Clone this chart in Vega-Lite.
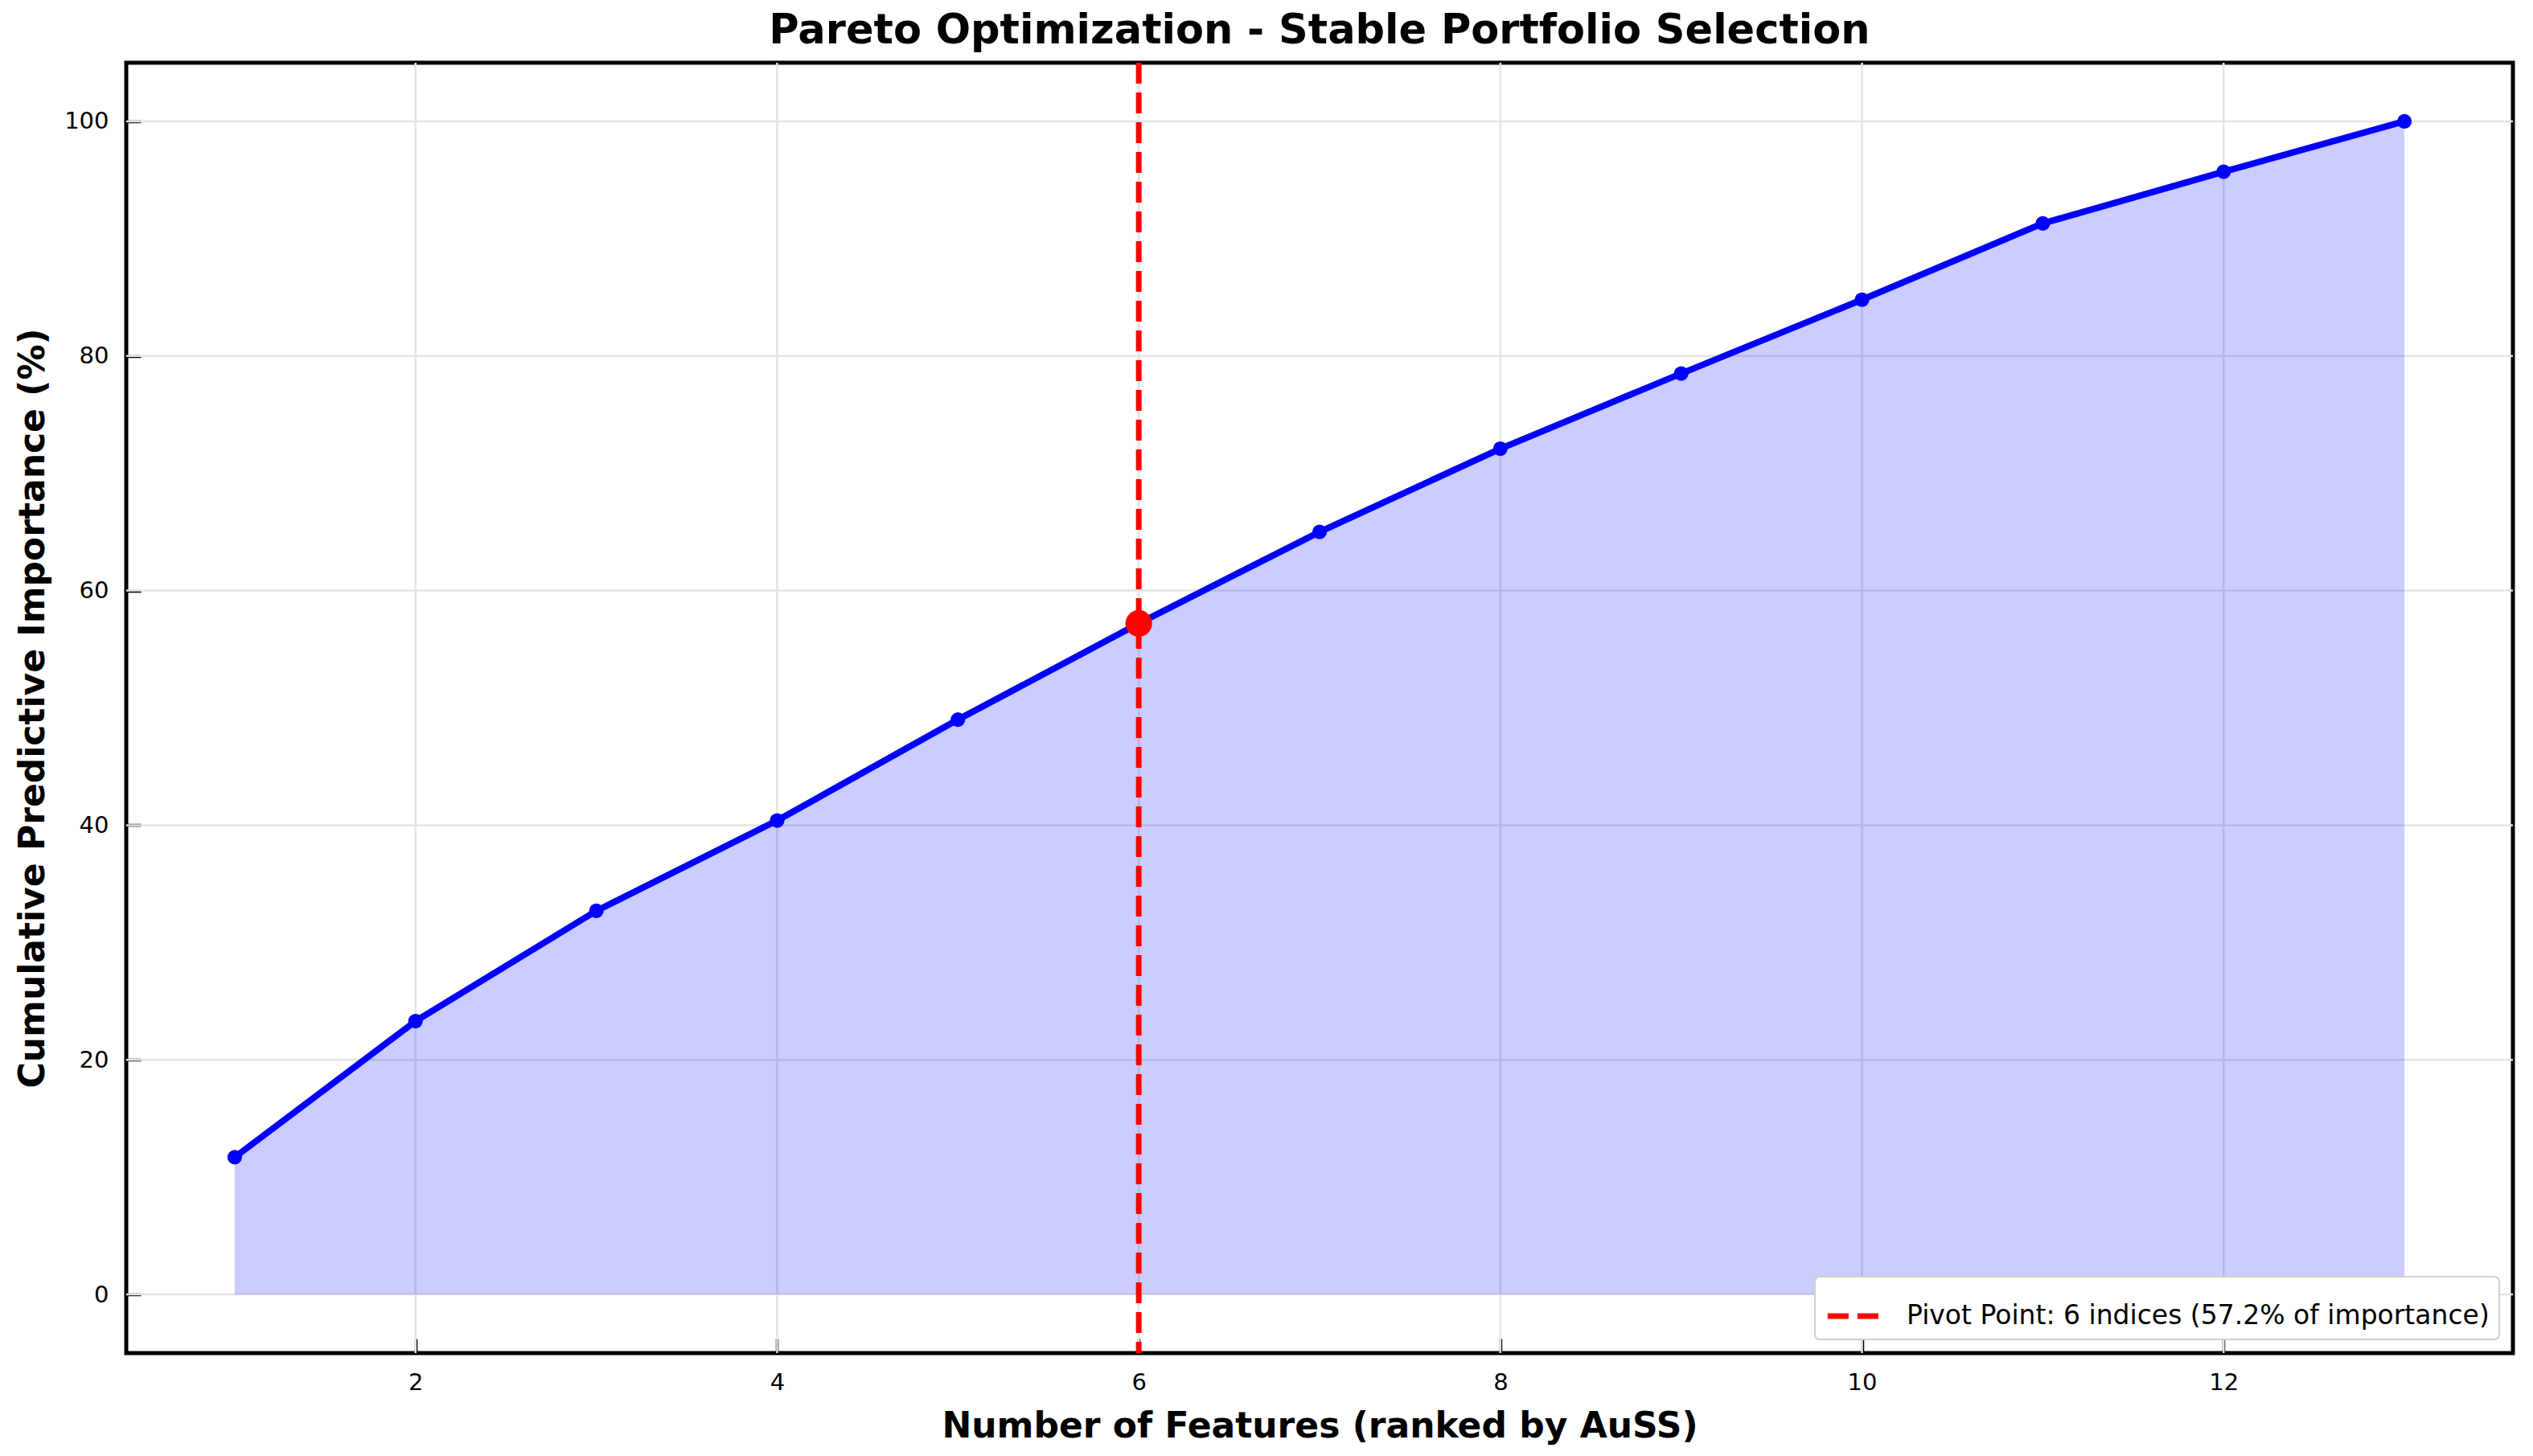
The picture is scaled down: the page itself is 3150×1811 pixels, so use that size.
{
  "$schema": "https://vega.github.io/schema/vega-lite/v6.json",
  "autosize": "none",
  "width": 2968,
  "height": 1605,
  "padding": {"left": 157, "top": 78, "right": 25, "bottom": 128},
  "background": "white",
  "title": {
    "text": "Pareto Optimization - Stable Portfolio Selection",
    "font": "DejaVu Sans",
    "fontSize": 51,
    "fontWeight": "bold",
    "color": "black",
    "offset": 10
  },
  "config": {
    "font": "DejaVu Sans",
    "view": {"stroke": "black", "strokeWidth": 5},
    "axis": {
      "domain": false,
      "grid": false,
      "ticks": true,
      "offset": -18,
      "tickSize": 18,
      "tickWidth": 3.5,
      "tickColor": "black",
      "labelPadding": 22,
      "labelFont": "DejaVu Sans",
      "labelFontSize": 29,
      "labelColor": "black",
      "titleFont": "DejaVu Sans",
      "titleFontSize": 44,
      "titleFontWeight": "bold",
      "titleColor": "black",
      "zindex": 1
    },
    "legend": {
      "orient": "bottom-right",
      "offset": 17,
      "fillColor": "white",
      "strokeColor": "#d0d0d0",
      "strokeWidth": 2,
      "cornerRadius": 6,
      "padding": 12,
      "labelFont": "DejaVu Sans",
      "labelFontSize": 33,
      "labelColor": "black",
      "labelOffset": 28,
      "labelLimit": 2000,
      "symbolType": "stroke",
      "symbolSize": 4400,
      "symbolStrokeWidth": 7,
      "symbolDash": [26, 11]
    }
  },
  "datasets": {
    "curve": [
      {"k": 1, "cum": 11.7},
      {"k": 2, "cum": 23.3},
      {"k": 3, "cum": 32.7},
      {"k": 4, "cum": 40.4},
      {"k": 5, "cum": 49.0},
      {"k": 6, "cum": 57.2},
      {"k": 7, "cum": 65.0},
      {"k": 8, "cum": 72.1},
      {"k": 9, "cum": 78.5},
      {"k": 10, "cum": 84.8},
      {"k": 11, "cum": 91.3},
      {"k": 12, "cum": 95.7},
      {"k": 13, "cum": 100.0}
    ],
    "xgrid": [{"k": 2}, {"k": 4}, {"k": 6}, {"k": 8}, {"k": 10}, {"k": 12}],
    "ygrid": [{"cum": 0}, {"cum": 20}, {"cum": 40}, {"cum": 60}, {"cum": 80}, {"cum": 100}]
  },
  "layer": [
    {
      "data": {"name": "xgrid"},
      "mark": {"type": "rule", "color": "#e4e4e4", "strokeWidth": 2.5},
      "encoding": {
        "x": {
          "field": "k",
          "type": "quantitative",
          "scale": {"domain": [0.4, 13.6], "nice": false, "zero": false},
          "axis": {
            "title": "Number of Features (ranked by AuSS)",
            "values": [2, 4, 6, 8, 10, 12],
            "format": "d",
            "titlePadding": 18
          }
        }
      }
    },
    {
      "data": {"name": "ygrid"},
      "mark": {"type": "rule", "color": "#e4e4e4", "strokeWidth": 2.5},
      "encoding": {
        "y": {
          "field": "cum",
          "type": "quantitative",
          "scale": {"domain": [-5, 105], "nice": false},
          "axis": {
            "title": "Cumulative Predictive Importance (%)",
            "values": [0, 20, 40, 60, 80, 100],
            "format": "d",
            "titlePadding": 16
          }
        }
      }
    },
    {
      "data": {"name": "curve"},
      "mark": {"type": "area", "color": "#0000ff", "opacity": 0.2},
      "encoding": {
        "x": {"field": "k", "type": "quantitative"},
        "y": {"field": "cum", "type": "quantitative"}
      }
    },
    {
      "data": {"values": [{"k": 6, "label": "Pivot Point: 6 indices (57.2% of importance)"}]},
      "mark": {"type": "rule", "strokeWidth": 7, "strokeDash": [26, 11]},
      "encoding": {
        "x": {"field": "k", "type": "quantitative"},
        "color": {
          "field": "label",
          "type": "nominal",
          "scale": {"range": ["#ff0000"]},
          "legend": {"title": null}
        }
      }
    },
    {
      "data": {"name": "curve"},
      "mark": {"type": "line", "color": "#0000ff", "strokeWidth": 8},
      "encoding": {
        "x": {"field": "k", "type": "quantitative"},
        "y": {"field": "cum", "type": "quantitative"}
      }
    },
    {
      "data": {"name": "curve"},
      "mark": {"type": "point", "filled": true, "color": "#0000ff", "opacity": 1, "size": 330},
      "encoding": {
        "x": {"field": "k", "type": "quantitative"},
        "y": {"field": "cum", "type": "quantitative"}
      }
    },
    {
      "data": {"values": [{"k": 6, "cum": 57.2}]},
      "mark": {"type": "point", "filled": true, "color": "#ff0000", "opacity": 1, "size": 1100},
      "encoding": {
        "x": {"field": "k", "type": "quantitative"},
        "y": {"field": "cum", "type": "quantitative"}
      }
    }
  ]
}
